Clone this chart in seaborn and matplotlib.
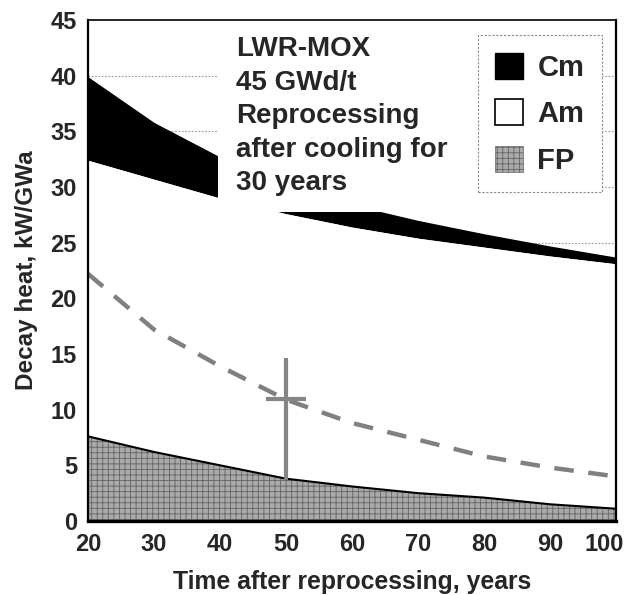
import numpy as np
import pandas as pd
import matplotlib
matplotlib.use("Agg")
import matplotlib.pyplot as plt
import matplotlib.transforms as mtransforms
import seaborn as sns
from matplotlib.patches import Patch, Rectangle

# -----------------------------------
# DATA
# -----------------------------------

years = [20, 30, 40, 50, 60, 70, 80, 90, 100]

# cumulative tops of the stacked areas, kW/GWa
fp_top = [7.6, 6.2, 5.0, 3.8, 3.1, 2.5, 2.1, 1.5, 1.1]
am_top = [32.4, 30.7, 29.0, 27.6, 26.4, 25.4, 24.6, 23.8, 23.1]
cm_top = [39.9, 35.8, 32.7, 30.4, 28.4, 27.0, 25.8, 24.7, 23.7]

# dashed curve
dashed_heat = [22.2, 17.2, 13.9, 10.9, 8.8, 7.3, 5.8, 4.8, 4.0]

# cross marker at 50 years
cross_year = 50
cross_heat = 11.0
cross_heat_range = [3.7, 14.6]
cross_year_range = [47, 53]

series_labels = ["Cm", "Am", "FP"]
note_text = "LWR-MOX\n45 GWd/t\nReprocessing\nafter cooling for\n30 years"

y_ticks = [0, 5, 10, 15, 20, 25, 30, 35, 40, 45]
x_ticks = [20, 30, 40, 50, 60, 70, 80, 90, 100]

df = pd.DataFrame({"year": years, "fp": fp_top, "am": am_top,
                   "cm": cm_top, "dashed": dashed_heat})

# -----------------------------------
# STYLE
# -----------------------------------

sns.set_style("white")
plt.rcParams["font.family"] = ["Liberation Sans", "DejaVu Sans"]
plt.rcParams["font.weight"] = "bold"
plt.rcParams["hatch.linewidth"] = 0.6

fig = plt.figure(figsize=(6.25, 5.95), dpi=100)
ax = fig.add_axes([0.1408, 0.1244, 0.8448, 0.842])

# gridlines below the filled areas
for yv in y_ticks[1:-1]:
    ax.axhline(yv, color="#9a9a9a", lw=0.8, ls=(0, (1.5, 1.5)), zorder=0.5)

# -----------------------------------
# STACKED AREAS
# -----------------------------------

ax.fill_between(df["year"], df["am"], df["cm"], color="black", lw=0, zorder=1)
ax.fill_between(df["year"], df["fp"], df["am"], color="white", lw=0, zorder=1)
ax.fill_between(df["year"], 0, df["fp"], facecolor="#aaaaaa",
                edgecolor="#646464", hatch="+++", lw=0, zorder=1)
ax.plot(df["year"], df["fp"], color="black", lw=1.5, zorder=1.2)

# dashed curve
sns.lineplot(data=df, x="year", y="dashed", ax=ax, color="#808080",
             lw=3.2, dashes=False, zorder=1.3)
ax.lines[-1].set_linestyle((0, (4.4, 3.3)))

# cross
ax.errorbar([cross_year], [cross_heat],
            yerr=[[cross_heat - cross_heat_range[0]], [cross_heat_range[1] - cross_heat]],
            xerr=[[cross_year - cross_year_range[0]], [cross_year_range[1] - cross_year]],
            fmt="none", ecolor="#858585", elinewidth=3, capsize=0, zorder=1.4)

# white box behind the note
ax.add_patch(Rectangle((0.246, 0.617), 0.727, 0.38, transform=ax.transAxes,
                       facecolor="white", edgecolor="none", zorder=2.1))
ax.text(0.280, 0.968, note_text, transform=ax.transAxes, ha="left", va="top",
        fontsize=20, fontweight="bold", linespacing=1.38, zorder=3)

# -----------------------------------
# LEGEND
# -----------------------------------

handles = [
    Patch(facecolor="black", edgecolor="black", label=series_labels[0]),
    Patch(facecolor="white", edgecolor="black", lw=1.2, label=series_labels[1]),
    Patch(facecolor="#aaaaaa", edgecolor="#646464", hatch="+++", lw=0.5,
          label=series_labels[2]),
]
leg = ax.legend(handles=handles, loc="upper right", bbox_to_anchor=(0.973, 0.970),
                borderaxespad=0, fontsize=21, handlelength=0.95, handleheight=1.0,
                handletextpad=0.5, labelspacing=0.6, borderpad=0.6,
                fancybox=False, framealpha=1, edgecolor="#8a8a8a")
leg.get_frame().set_linewidth(0.8)
leg.get_frame().set_linestyle((0, (2, 1.5)))
leg.set_zorder(5)
for t in leg.get_texts():
    t.set_fontweight("bold")

# -----------------------------------
# AXES
# -----------------------------------

ax.set_xlim(20, 100)
ax.set_ylim(0, 45)
ax.set_xticks(x_ticks)
ax.set_yticks(y_ticks)
ax.tick_params(axis="x", length=0, labelsize=17, pad=9)
ax.tick_params(axis="y", direction="in", length=4, width=0.8, color="#555555",
               labelsize=17, pad=8)
for lab in ax.get_xticklabels() + ax.get_yticklabels():
    lab.set_fontweight("bold")

# last x label pulled in so it stays on the canvas
last = ax.get_xticklabels()[-1]
last.set_horizontalalignment("right")
last.set_transform(last.get_transform() +
                   mtransforms.ScaledTranslation(6 / 72, 0, fig.dpi_scale_trans))

for side, lw in {"left": 1.6, "bottom": 2.4, "right": 1.6, "top": 1.2}.items():
    ax.spines[side].set_visible(True)
    ax.spines[side].set_color("black")
    ax.spines[side].set_linewidth(lw)
    ax.spines[side].set_zorder(4)

ax.set_xlabel("Time after reprocessing, years", fontsize=17.8, fontweight="bold", labelpad=10)
ax.set_ylabel("Decay heat, kW/GWa", fontsize=17.5, fontweight="bold", labelpad=9)

fig.savefig("out.png", dpi=100)
